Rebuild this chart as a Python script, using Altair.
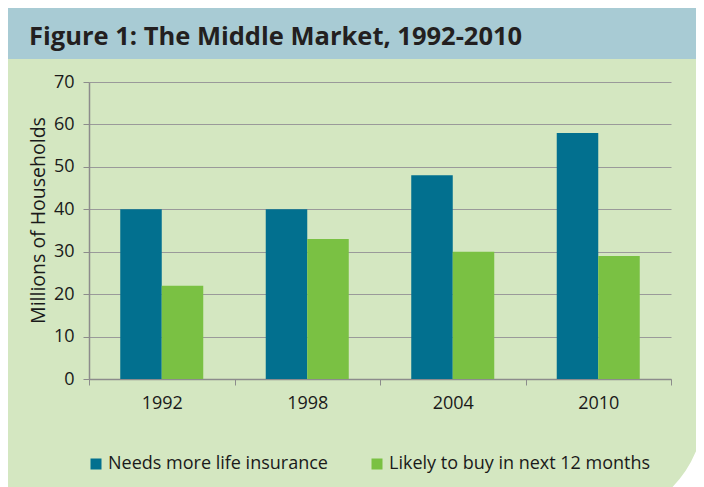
import altair as alt
import pandas as pd

years = ["1992", "1998", "2004", "2010"]
series = ["Needs more life insurance", "Likely to buy in next 12 months"]
needs_more = [40, 40, 48, 58]
likely_buy = [22, 33, 30, 29]
colors = ["#02708f", "#7ac143"]
y_ticks = [0, 10, 20, 30, 40, 50, 60, 70]
title_text = "Figure 1: The Middle Market, 1992-2010"
y_title = "Millions of Households"

rows = []
for i, yr in enumerate(years):
    rows.append({"year": yr, "series": series[0], "value": needs_more[i]})
    rows.append({"year": yr, "series": series[1], "value": likely_buy[i]})
df = pd.DataFrame(rows)

FONT = "Open Sans"
one = pd.DataFrame({"a": [0]})

bars = alt.Chart(df).mark_bar().encode(
    x=alt.X("year:N", sort=years, title=None,
            scale=alt.Scale(paddingInner=0, paddingOuter=0),
            axis=alt.Axis(labelAngle=0, labelFontSize=18, labelFont=FONT, labelColor="#1a1a1a",
                          labelPadding=9, tickBand="extent", ticks=True, tickSize=6,
                          tickColor="#8c8c8c", domainColor="#8c8c8c", domainWidth=1.5,
                          grid=False)),
    xOffset=alt.XOffset("series:N", sort=series,
                        scale=alt.Scale(paddingInner=0, paddingOuter=0.753)),
    y=alt.Y("value:Q", title=y_title,
            scale=alt.Scale(domain=[0, 70], nice=False),
            axis=alt.Axis(values=y_ticks, labelFontSize=18, labelFont=FONT, labelColor="#1a1a1a",
                          labelPadding=9, tickSize=6, tickColor="#8c8c8c",
                          domainColor="#8c8c8c", domainWidth=1.5,
                          gridColor="#9a9a9a", gridWidth=1.2,
                          titleFont=FONT, titleFontSize=19.5, titleFontWeight="normal",
                          titleColor="#1a1a1a", titlePadding=5, titleY=138)),
    color=alt.Color("series:N", sort=series,
                    scale=alt.Scale(domain=series, range=colors),
                    legend=alt.Legend(orient="none", legendX=-2, legendY=373, direction="horizontal",
                                      title=None, symbolType="square", symbolSize=121,
                                      symbolStrokeWidth=0, labelFontSize=18, labelFont=FONT,
                                      labelColor="#1a1a1a", labelOffset=3, columnPadding=40,
                                      labelLimit=500, padding=0)),
)

banner = alt.Chart(one).mark_rect(color="#a8cbd4").encode(
    x=alt.value(-81), x2=alt.value(615), y=alt.value(-74), y2=alt.value(-23)
)

corner = alt.Chart(one).mark_arc(color="white", innerRadius=110, outerRadius=180,
                                 theta=1.5708, theta2=3.1416).encode(
    x=alt.value(505), y=alt.value(328)
)

title = alt.Chart(one).mark_text(align="left", baseline="alphabetic", fontSize=25.5,
                                 fontWeight="bold", font=FONT, color="#231f20").encode(
    x=alt.value(-60), y=alt.value(-37), text=alt.value(title_text)
)

chart = alt.layer(banner, corner, bars, title).properties(
    width=582, height=297,
    autosize="none",
    padding={"left": 81, "top": 74, "right": 25, "bottom": 108},
    background="#d4e7c1",
).configure_view(strokeWidth=0)

chart.save("out.html", embed_options={"renderer": "svg", "actions": False})
